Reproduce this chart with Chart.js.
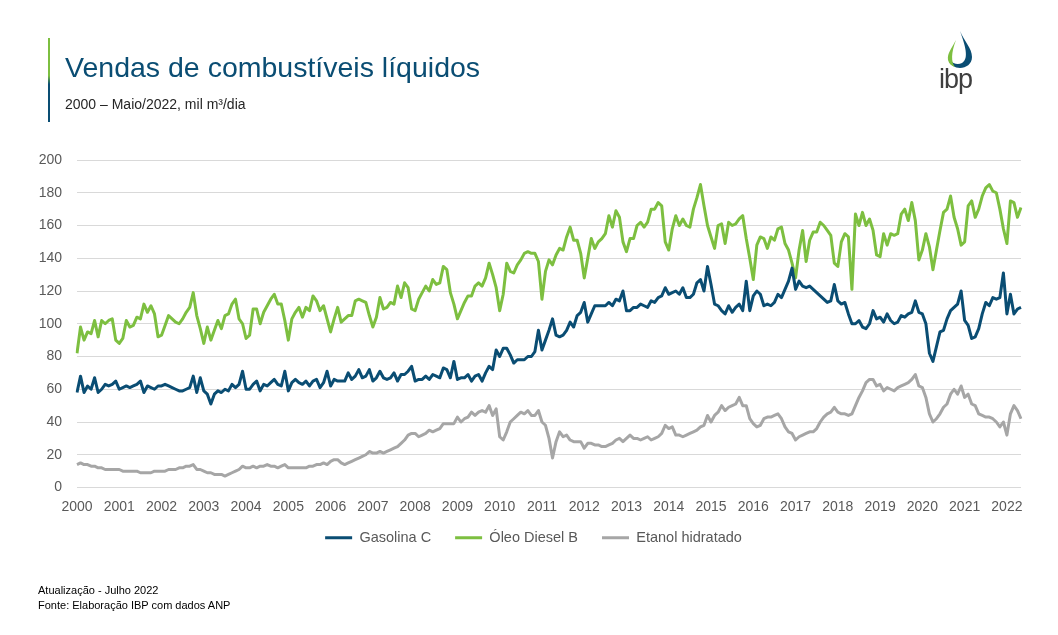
<!DOCTYPE html>
<html lang="pt-BR">
<head>
<meta charset="utf-8">
<title>Vendas de combustíveis líquidos</title>
<script src="https://cdn.jsdelivr.net/npm/chart.js@4"></script>
<style>
  html, body { margin: 0; padding: 0; background: #ffffff; }
  body { width: 1058px; height: 635px; position: relative; overflow: hidden; font-family: 'Liberation Sans', Arial, sans-serif; }
  #grafico { position: absolute; left: 0; top: 0; }
  .barra { position: absolute; left: 48px; top: 38px; width: 2px; height: 84px;
           background: linear-gradient(#7dbf40 0%, #7dbf40 45%, #0a4d73 55%, #0a4d73 100%); }
  .titulo { position: absolute; left: 65px; top: 51px; font-size: 28.5px; color: #0a4d73; white-space: nowrap; }
  .subtitulo { position: absolute; left: 65px; top: 96px; font-size: 14px; color: #262626; white-space: nowrap; }
  .rodape { position: absolute; left: 38px; font-size: 11px; color: #000000; white-space: nowrap; }
  #logo { position: absolute; left: 930px; top: 26px; }
</style>
</head>
<body>
<canvas id="grafico" width="1058" height="635"></canvas>
<div class="barra"></div>
<div class="titulo">Vendas de combustíveis líquidos</div>
<div class="subtitulo">2000 – Maio/2022, mil m³/dia</div>
<div class="rodape" style="top:584px">Atualização - Julho 2022</div>
<div class="rodape" style="top:599px">Fonte: Elaboração IBP com dados ANP</div>
<svg id="logo" width="60" height="70" viewBox="0 0 60 70">
  <!-- gota do logo -->
  <path d="M30 5 C34 15 42 22 42 31 C42 38 36 42 30 42 C25 42 20 39 20 34 C23 38 28 39 32 37 C38 33 37 24 30 5 Z" fill="#0a4d73"/>
  <path d="M26 14 C22 22 17 27 18 34 C19 38 22 40 25 41 C21 36 21 27 26 14 Z" fill="#7dbf40"/>
  <text x="9" y="62" font-family="Liberation Sans, Arial, sans-serif" font-size="27" fill="#3f3f3f" letter-spacing="-1">ibp</text>
</svg>

<script>
// anos do eixo x
const anos = ['2000', '2001', '2002', '2003', '2004', '2005', '2006', '2007', '2008', '2009', '2010',
              '2011', '2012', '2013', '2014', '2015', '2016', '2017', '2018', '2019', '2020', '2021', '2022'];

// Gasolina C, mil m3/dia (jan/2000 - mai/2022)
const gasolinaC = [
  58, 68, 58, 62, 60, 67, 58, 60, 63, 62, 63, 65,
  60, 61, 62, 61, 62, 63, 65, 58, 62, 61, 60, 62,
  62, 63, 62, 61, 60, 59, 59, 60, 61, 68, 58, 67,
  59, 57, 51, 57, 59, 58, 60, 59, 63, 61, 63, 71,
  60, 60, 63, 65, 59, 63, 62, 64, 66, 63, 62, 71,
  59, 64, 66, 64, 63, 65, 62, 65, 66, 61, 64, 71,
  62, 66, 65, 65, 65, 70, 66, 68, 72, 67, 68, 72,
  65, 67, 71, 67, 66, 67, 70, 65, 69, 69, 71, 74,
  65, 66, 66, 68, 66, 69, 68, 67, 73, 72, 67, 77,
  66, 67, 67, 69, 65, 68, 69, 65, 70, 74, 72, 84,
  80, 85, 85, 81, 76, 78, 78, 78, 80, 80, 83, 96,
  84, 90, 96, 103, 93, 92, 93, 96, 101, 98, 105, 107,
  113, 101, 106, 111, 111, 111, 111, 113, 111, 115, 114, 120,
  108, 108, 110, 110, 112, 111, 110, 114, 113, 116, 117, 122,
  118, 119, 120, 118, 122, 116, 116, 118, 125, 127, 120, 135,
  124, 112, 111, 108, 106, 111, 107, 110, 112, 108, 126, 108,
  117, 120, 118, 111, 112, 111, 113, 118, 116, 121, 126, 134,
  121, 126, 123, 122, 123, 121, 119, 117, 115, 113, 114, 124,
  114, 112, 113, 106, 100, 100, 102, 98, 97, 100, 108, 103,
  104, 101, 106, 102, 100, 101, 105, 104, 106, 107, 114, 107,
  106, 100, 82, 77, 86, 95, 96, 103, 108, 110, 112, 120,
  102, 99, 91, 92, 97, 106, 113, 111, 116, 115, 116, 131,
  106, 118, 106, 109, 110
];

// Óleo Diesel B
const oleoDieselB = [
  82, 98, 90, 95, 94, 102, 92, 102, 100, 102, 103, 90,
  88, 91, 102, 98, 99, 104, 103, 112, 107, 111, 106, 92,
  93, 99, 105, 103, 101, 100, 103, 107, 110, 119, 105, 97,
  88, 98, 90, 96, 102, 97, 105, 106, 112, 115, 103, 100,
  91, 93, 109, 109, 100, 107, 111, 115, 118, 112, 112, 102,
  90, 103, 107, 110, 104, 110, 108, 117, 114, 108, 111, 103,
  95, 103, 110, 101, 103, 105, 105, 114, 115, 114, 113, 105,
  98, 104, 116, 109, 110, 113, 112, 123, 116, 125, 122, 109,
  108, 115, 119, 123, 120, 127, 124, 125, 135, 133, 119, 112,
  103, 108, 113, 117, 117, 123, 125, 123, 128, 137, 130, 122,
  108, 118, 137, 132, 131, 136, 139, 143, 144, 143, 143, 138,
  115, 132, 139, 136, 142, 146, 145, 153, 159, 151, 151, 143,
  128, 140, 152, 146, 150, 152, 155, 166, 159, 169, 165, 150,
  144, 152, 152, 160, 162, 159, 162, 170, 170, 174, 172, 150,
  145, 158, 166, 160, 164, 160, 159, 170, 177, 185, 172, 160,
  153, 146, 160, 161, 149, 162, 160, 161, 164, 166, 152, 140,
  127, 148, 153, 152, 146, 153, 151, 158, 159, 149, 145, 137,
  128, 145, 157, 138, 151, 156, 156, 162, 160, 157, 154, 137,
  135, 150, 155, 153, 121, 167, 160, 168, 160, 164, 157, 142,
  141, 155, 148, 155, 154, 155, 167, 170, 163, 174, 163, 139,
  145, 155, 147, 133, 145, 157, 168, 170, 178, 165, 158, 148,
  150, 172, 175, 165, 170, 178, 183, 185, 181, 180, 170, 158,
  149, 175, 174, 165, 171
];

// Etanol hidratado
const etanolHidratado = [
  14, 15, 14, 14, 13, 13, 12, 12, 11, 11, 11, 11,
  11, 10, 10, 10, 10, 10, 9, 9, 9, 9, 10, 10,
  10, 10, 11, 11, 11, 12, 12, 13, 13, 14, 11, 11,
  10, 9, 9, 8, 8, 8, 7, 8, 9, 10, 11, 13,
  12, 12, 13, 12, 13, 13, 14, 13, 13, 12, 13, 14,
  12, 12, 12, 12, 12, 12, 13, 13, 14, 14, 15, 14,
  16, 17, 17, 15, 14, 15, 16, 17, 18, 19, 20, 22,
  21, 21, 22, 21, 22, 23, 24, 25, 27, 29, 32, 33,
  33, 31, 32, 33, 35, 34, 35, 36, 39, 39, 39, 39,
  43, 40, 42, 43, 46, 44, 46, 47, 46, 50, 44, 48,
  31, 29, 34, 40, 42, 44, 46, 45, 47, 44, 44, 47,
  40, 38, 30, 18, 28, 34, 31, 32, 29, 28, 28, 28,
  24, 27, 27, 26, 26, 25, 25, 26, 27, 29, 30, 28,
  30, 32, 30, 30, 29, 30, 31, 29, 30, 31, 33, 38,
  36, 37, 32, 32, 31, 32, 33, 34, 35, 37, 38, 44,
  40, 44, 46, 50, 47, 49, 50, 51, 55, 50, 50, 42,
  39, 37, 38, 42, 43, 43, 44, 45, 42, 37, 34, 33,
  29, 31, 32, 33, 34, 34, 36, 40, 43, 45, 46, 49,
  46, 45, 45, 44, 45, 50, 55, 59, 64, 66, 66, 62,
  63, 59, 61, 60, 59, 61, 62, 63, 64, 66, 69, 62,
  61, 55, 45, 40, 42, 45, 49, 51, 57, 60, 57, 62,
  55, 57, 51, 50, 45, 44, 43, 43, 42, 40, 37, 40,
  32, 45, 50, 47, 42
];

// um rótulo por mês
const meses = [];
anos.forEach(function(a) {
  for (let m = 1; m <= 12; m++) meses.push(m + '/' + a);
});
meses.length = gasolinaC.length;

const corTexto = '#595959';
const fonte = 'Liberation Sans';

// legenda centrada um pouco à direita e mais perto do eixo, como no original
const legendaDesloc = {
  id: 'legendaDesloc',
  afterLayout(chart) {
    const leg = chart.legend;
    leg.left = 46;
    leg.top -= 11;
    leg.bottom -= 11;
  }
};

const ctx = document.getElementById('grafico').getContext('2d');
new Chart(ctx, {
  type: 'line',
  data: {
    labels: meses,
    datasets: [
      { label: 'Gasolina C', data: gasolinaC, borderColor: '#0a4d73', backgroundColor: '#0a4d73' },
      { label: 'Óleo Diesel B', data: oleoDieselB, borderColor: '#7dbf40', backgroundColor: '#7dbf40' },
      { label: 'Etanol hidratado', data: etanolHidratado, borderColor: '#a6a6a6', backgroundColor: '#a6a6a6' }
    ]
  },
  options: {
    responsive: false,
    animation: false,
    elements: {
      line: { borderWidth: 3, tension: 0, borderJoinStyle: 'round' },
      point: { radius: 0 }
    },
    layout: { padding: { left: 0, right: 37, top: 160, bottom: 69 } },
    plugins: {
      tooltip: { enabled: false },
      legend: {
        position: 'bottom',
        labels: {
          color: corTexto,
          font: { family: fonte, size: 14.5 },
          boxWidth: 27,
          boxHeight: 3,
          padding: 24,
          generateLabels: function(chart) {
            const itens = Chart.defaults.plugins.legend.labels.generateLabels(chart);
            itens.forEach(function(it) { it.lineWidth = 0; it.fillStyle = it.strokeStyle; });
            return itens;
          }
        }
      }
    },
    scales: {
      x: {
        grid: { display: false, drawTicks: false },
        border: { display: false },
        ticks: {
          autoSkip: false,
          maxRotation: 0,
          padding: 11,
          color: corTexto,
          font: { family: fonte, size: 14 },
          callback: function(v, i) { return i % 12 === 0 ? anos[i / 12] : null; }
        },
        afterFit: function(scale) { scale.height = 30; }
      },
      y: {
        min: 0,
        max: 200,
        grid: { color: '#d9d9d9', drawTicks: false },
        border: { display: false },
        ticks: {
          stepSize: 20,
          padding: 15,
          color: corTexto,
          font: { family: fonte, size: 14 }
        },
        afterFit: function(scale) { scale.width = 77; }
      }
    }
  },
  plugins: [legendaDesloc]
});
</script>
</body>
</html>
